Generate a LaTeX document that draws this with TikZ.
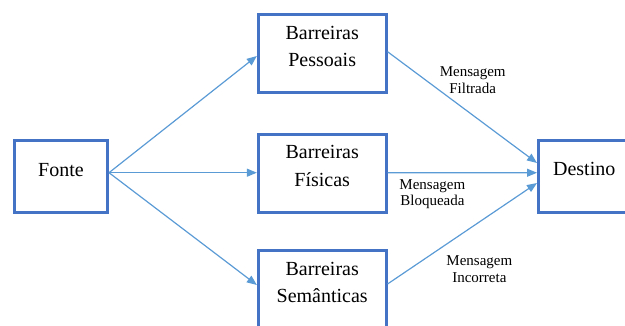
\documentclass[tikz,border=0pt]{standalone}
\usepackage{fontspec}
\setmainfont{Liberation Serif}
\newfontfamily\timesfont{Liberation Serif}
\usetikzlibrary{arrows.meta}
\definecolor{boxblue}{HTML}{4472C4}
\definecolor{arrowblue}{HTML}{5B9BD5}
\newcommand\mylines[1]{\begin{tabular}[b]{@{}c@{}}#1\end{tabular}}
\begin{document}
\begin{tikzpicture}[x=1pt,y=-1pt,
  box/.style={draw=boxblue, line width=3pt, inner sep=0pt,
    font=\timesfont\fontsize{20}{27.5}\selectfont, text depth=21pt},
  conn/.style={draw=arrowblue, line width=1.2pt, -{Triangle[length=10pt,width=8pt]}},
  msg/.style={inner sep=0pt, anchor=base, font=\timesfont\fontsize{15}{16.7}\selectfont}]
\useasboundingbox (0,0) rectangle (625,326);
\clip (0,0) rectangle (625,326);
\node[box, minimum width=93pt, minimum height=72pt] (fonte) at (61,177) {\mylines{Fonte}};
\node[box, minimum width=127.7pt, minimum height=78.5pt] (pessoais) at (322.2,53.7) {\mylines{Barreiras\\Pessoais}};
\node[box, minimum width=127.7pt, minimum height=78.5pt] (fisicas) at (322.2,173.5) {\mylines{Barreiras\\Físicas}};
\node[box, minimum width=127.7pt, minimum height=78.5pt] (semanticas) at (322.2,289.7) {\mylines{Barreiras\\Semânticas}};
\node[box, minimum width=130pt, minimum height=72.5pt] (destino) at (603.5,176.75) {\mylines{Destino}\hspace*{38.6pt}};

\draw[conn] ([yshift=4.3pt]fonte.east) -- ([yshift=-2.3pt]pessoais.west);
\draw[conn] ([yshift=4.3pt]fonte.east) -- ([yshift=0.8pt]fisicas.west);
\draw[conn] ([yshift=4.3pt]fonte.east) -- ([yshift=4.7pt]semanticas.west);

\draw[conn] ([yshift=2pt]pessoais.east) -- ([yshift=13.75pt]destino.west);
\draw[conn] ([yshift=0.8pt]fisicas.east) -- ([yshift=4pt]destino.west);
\draw[conn] ([yshift=5.7pt]semanticas.east) -- ([yshift=-6.25pt]destino.west);

\node[msg] (filtrada) at (472.7,93.3) {\mylines{Mensagem\\Filtrada}};
\node[msg] (bloqueada) at (432.4,206) {\mylines{Mensagem\\Bloqueada}};
\node[msg] (incorreta) at (479.4,282.3) {\mylines{Mensagem\\Incorreta}};
\end{tikzpicture}
\end{document}
